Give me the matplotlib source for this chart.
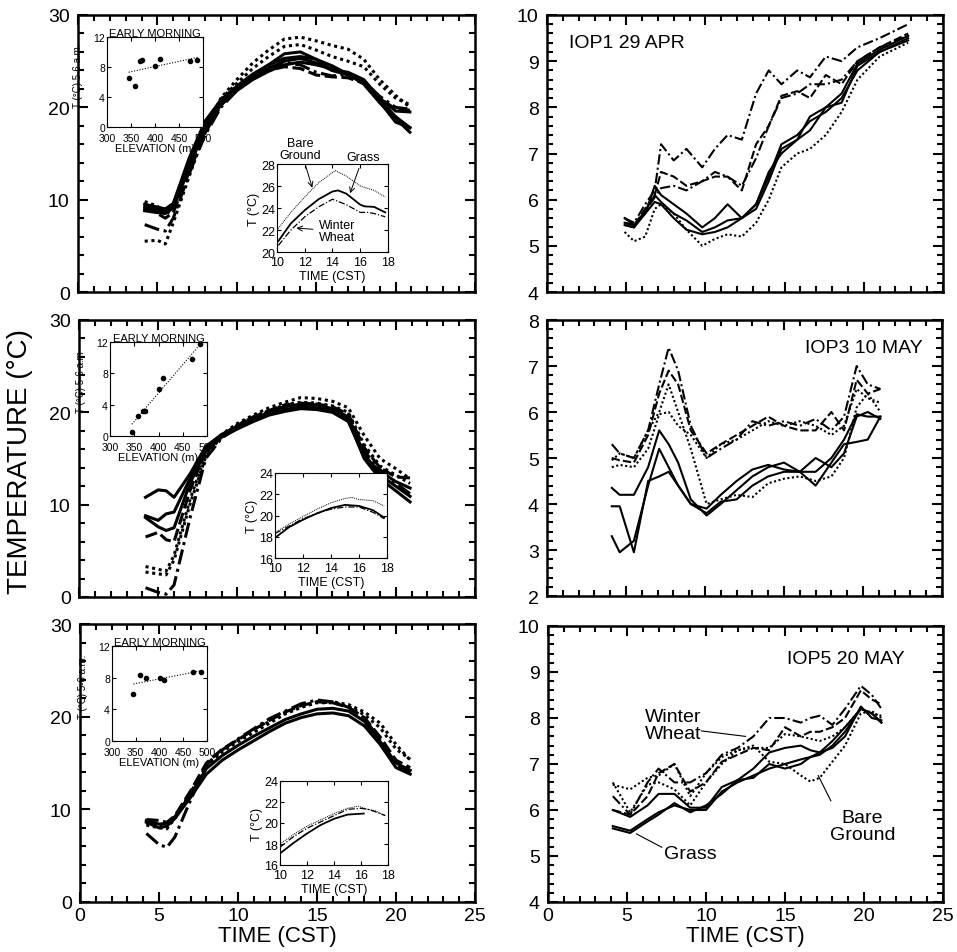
import matplotlib
matplotlib.use("Agg")
import matplotlib.pyplot as plt
from matplotlib.ticker import MultipleLocator

plt.rcParams['font.family'] = ['Liberation Sans', 'DejaVu Sans']

# ---------------- data: left column (whole day, all stations) ----------------
t_left = [4.2, 5, 5.5, 6, 7, 8, 9, 10, 11, 12, 13, 14, 15, 16, 17, 18, 19, 20, 20.9]

iop1_left = [
    ([9.5, 9.2, 9.0, 9.6, 14.5, 18.5, 20.8, 22.3, 23.6, 24.6, 25.3, 25.5, 25.2, 24.5, 23.6, 22.5, 20.5, 18.8, 17.3], 'solid'),
    ([9.2, 9.0, 8.9, 9.5, 14.2, 18.2, 20.6, 22.0, 23.2, 24.2, 25.0, 25.3, 24.8, 24.0, 23.5, 22.7, 20.8, 19.0, 17.8], 'solid'),
    ([9.0, 8.8, 8.7, 9.3, 13.8, 18.0, 20.5, 22.0, 23.4, 24.6, 25.8, 26.0, 25.2, 24.0, 23.8, 23.0, 21.0, 19.6, 19.5], 'solid'),
    ([8.8, 8.6, 8.5, 9.1, 13.6, 17.6, 20.3, 21.8, 23.0, 23.9, 24.6, 24.9, 24.6, 24.2, 23.7, 22.9, 20.6, 18.4, 17.8], 'solid'),
    ([9.8, 9.3, 8.4, 9.0, 13.5, 17.8, 20.9, 22.6, 24.2, 25.5, 26.6, 26.8, 26.2, 25.5, 25.0, 24.4, 22.5, 21.0, 20.3], 'dotted'),
    ([5.5, 5.6, 5.2, 7.5, 12.5, 17.5, 21.0, 23.0, 24.8, 26.2, 27.4, 27.6, 27.2, 26.7, 26.3, 25.2, 23.0, 21.3, 20.0], 'dotted'),
    ([7.3, 6.8, 6.6, 8.0, 12.8, 17.0, 20.0, 21.8, 23.2, 24.3, 24.8, 24.6, 23.8, 23.4, 23.6, 22.8, 21.2, 20.0, 19.8], 'dashdot'),
    ([9.3, 8.5, 8.0, 8.6, 13.0, 17.2, 20.2, 22.0, 23.2, 24.0, 24.4, 24.2, 23.5, 23.3, 23.2, 22.6, 21.0, 19.8, 19.7], 'dashed'),
]

iop3_left = [
    ([10.8, 11.6, 11.5, 10.8, 13.3, 16.3, 17.6, 18.5, 19.3, 20.0, 20.6, 20.9, 20.8, 20.4, 19.5, 15.5, 13.2, 12.0, 10.9], 'solid'),
    ([8.8, 8.3, 9.0, 9.2, 12.8, 16.0, 17.4, 18.3, 19.1, 19.8, 20.3, 20.6, 20.5, 20.1, 19.2, 15.0, 12.8, 11.5, 10.3], 'solid'),
    ([8.6, 7.6, 7.2, 7.5, 12.3, 15.8, 17.3, 18.2, 19.0, 19.7, 20.1, 20.4, 20.3, 20.0, 19.0, 15.2, 13.6, 12.5, 11.8], 'solid'),
    ([6.5, 7.0, 6.2, 6.0, 11.5, 15.9, 17.5, 18.6, 19.5, 20.2, 20.8, 21.0, 20.9, 20.6, 19.8, 16.2, 14.0, 13.0, 12.9], 'dashed'),
    ([3.3, 3.0, 2.8, 4.5, 10.5, 15.5, 17.6, 18.8, 19.7, 20.5, 21.1, 21.6, 21.5, 21.2, 20.5, 17.5, 15.0, 13.9, 12.8], 'dotted'),
    ([2.7, 2.5, 2.4, 4.0, 10.0, 15.2, 17.4, 18.6, 19.5, 20.2, 20.8, 21.1, 21.0, 20.7, 20.0, 16.5, 14.2, 13.2, 12.3], 'dotted'),
    ([1.0, 0.5, 0.3, 1.3, 8.5, 15.0, 17.2, 18.4, 19.4, 20.1, 20.6, 20.8, 20.7, 20.3, 19.4, 15.8, 13.8, 12.3, 11.2], 'dashdot'),
]

iop5_left = [
    ([8.6, 8.0, 8.2, 9.0, 11.3, 13.8, 15.3, 16.4, 17.4, 18.4, 19.3, 19.9, 20.3, 20.4, 20.1, 19.0, 17.0, 14.5, 13.8], 'solid'),
    ([8.8, 8.4, 8.5, 9.2, 11.6, 14.4, 15.8, 16.9, 17.9, 18.8, 19.7, 20.3, 20.8, 20.9, 20.6, 19.5, 17.3, 15.0, 14.2], 'solid'),
    ([8.9, 8.8, 8.6, 9.3, 12.0, 15.0, 16.5, 17.5, 18.6, 19.6, 20.5, 21.2, 21.6, 21.5, 21.0, 19.9, 17.8, 15.3, 14.5], 'dashed'),
    ([8.3, 8.0, 7.9, 9.1, 11.8, 14.6, 16.2, 17.3, 18.3, 19.3, 20.3, 21.0, 21.5, 21.5, 21.1, 20.2, 18.8, 16.5, 15.4], 'dotted'),
    ([7.4, 6.2, 5.9, 7.0, 11.0, 14.8, 16.4, 17.6, 18.7, 19.8, 20.6, 21.4, 21.8, 21.6, 21.0, 19.8, 17.5, 14.8, 14.0], 'dashdot'),
    ([8.5, 8.2, 8.0, 9.0, 11.8, 14.8, 16.4, 17.5, 18.5, 19.5, 20.4, 21.1, 21.6, 21.6, 21.3, 20.5, 19.3, 17.0, 15.3], 'dotted'),
]

# ---------------- data: right column (early morning, stations) ----------------
t_iop1 = [4.9, 5.5, 6.2, 6.8, 7.2, 8.0, 8.8, 9.8, 10.6, 11.4, 12.3, 13.2, 14.0, 14.8, 15.8, 16.6, 17.6, 18.6, 19.6, 21.0, 22.8]
iop1_right = [
    ([5.6, 5.5, 5.9, 6.2, 7.2, 6.85, 7.1, 6.7, 7.1, 7.4, 7.3, 8.3, 8.8, 8.5, 8.8, 8.65, 9.1, 9.0, 9.3, 9.5, 9.8], 'dashdot'),
    ([5.5, 5.45, 5.8, 6.1, 6.6, 6.5, 6.3, 6.4, 6.5, 6.5, 6.2, 7.2, 7.6, 8.25, 8.35, 8.2, 8.7, 8.5, 9.0, 9.3, 9.6], 'dashed'),
    ([5.45, 5.4, 5.75, 6.05, 6.25, 6.3, 6.2, 6.4, 6.6, 6.5, 6.3, 6.9, 7.6, 8.2, 8.3, 8.5, 8.5, 8.6, 9.0, 9.3, 9.55], 'dashdot'),
    ([5.6, 5.45, 5.7, 6.3, 6.1, 5.9, 5.7, 5.4, 5.6, 5.9, 5.6, 5.8, 6.4, 7.1, 7.3, 7.5, 8.0, 8.1, 8.9, 9.2, 9.5], 'solid'),
    ([5.5, 5.45, 5.75, 6.1, 5.95, 5.7, 5.55, 5.3, 5.4, 5.55, 5.6, 5.9, 6.6, 7.0, 7.3, 7.8, 8.0, 8.3, 8.95, 9.25, 9.55], 'solid'),
    ([5.45, 5.4, 5.7, 5.95, 5.9, 5.6, 5.35, 5.25, 5.3, 5.4, 5.6, 5.9, 6.5, 7.2, 7.4, 7.7, 7.9, 8.2, 8.8, 9.2, 9.45], 'solid'),
    ([5.3, 5.1, 5.2, 5.8, 5.9, 5.7, 5.35, 5.0, 5.15, 5.25, 5.2, 5.5, 6.0, 6.7, 7.0, 7.1, 7.4, 7.9, 8.6, 9.1, 9.4], 'dotted'),
]

t_iop3 = [4.1, 4.6, 5.5, 6.4, 7.1, 7.7, 8.3, 9.1, 10.1, 11.0, 12.0, 13.0, 14.0, 15.0, 16.0, 17.0, 18.0, 18.8, 19.6, 20.3, 21.1]
iop3_right = [
    ([5.3, 5.1, 5.0, 5.6, 6.6, 7.4, 6.9, 5.7, 5.0, 5.2, 5.4, 5.8, 5.7, 5.8, 5.7, 5.85, 5.6, 5.9, 7.0, 6.6, 6.5], 'dashdot'),
    ([5.0, 4.95, 4.9, 5.5, 6.4, 6.9, 6.6, 5.6, 5.1, 5.3, 5.5, 5.7, 5.9, 5.7, 5.6, 5.6, 6.0, 5.6, 6.7, 6.4, 6.5], 'dashed'),
    ([4.95, 5.1, 5.0, 5.6, 6.0, 6.6, 6.0, 5.2, 4.0, 4.1, 4.2, 4.15, 4.45, 4.55, 4.6, 4.5, 4.6, 5.0, 6.1, 6.4, 6.0], 'dotted'),
    ([4.8, 4.85, 4.8, 5.2, 5.95, 6.0, 5.7, 5.5, 5.0, 5.3, 5.4, 5.6, 5.8, 5.7, 5.8, 5.7, 5.5, 5.7, 6.5, 6.3, 6.2], 'dotted'),
    ([4.35, 4.2, 4.2, 4.8, 5.6, 5.3, 4.9, 4.1, 3.75, 4.0, 4.3, 4.6, 4.8, 4.9, 4.7, 4.7, 5.0, 5.4, 5.95, 5.9, 5.9], 'solid'),
    ([3.3, 2.95, 3.2, 4.4, 5.2, 4.8, 4.4, 4.0, 3.9, 4.2, 4.5, 4.75, 4.85, 4.75, 4.7, 4.4, 4.9, 5.3, 5.35, 5.4, 5.9], 'solid'),
    ([3.95, 3.95, 2.95, 4.5, 4.6, 4.7, 4.4, 4.0, 3.8, 4.05, 4.1, 4.4, 4.6, 4.7, 4.7, 5.0, 4.8, 5.1, 5.9, 6.0, 5.85], 'solid'),
]

t_iop5 = [4.1, 5.2, 6.3, 7.0, 8.0, 9.0, 10.0, 11.0, 12.0, 13.0, 14.0, 15.0, 16.0, 16.6, 17.2, 18.0, 18.8, 19.8, 20.5, 21.1]
iop5_right = [
    ([5.65, 5.55, 5.8, 5.95, 6.1, 6.0, 6.0, 6.4, 6.6, 6.75, 6.9, 7.0, 7.1, 7.15, 7.2, 7.4, 7.7, 8.2, 8.1, 7.9], 'solid'),
    ([5.6, 5.5, 5.75, 5.9, 6.15, 5.95, 6.1, 6.35, 6.65, 6.7, 7.0, 6.9, 7.0, 7.15, 7.25, 7.35, 7.6, 8.25, 8.0, 7.95], 'solid'),
    ([6.0, 5.85, 6.1, 6.35, 6.35, 6.05, 6.05, 6.5, 6.65, 6.9, 7.25, 7.35, 7.4, 7.3, 7.25, 7.5, 7.8, 8.2, 8.1, 7.9], 'solid'),
    ([6.6, 5.95, 6.55, 6.6, 6.45, 6.1, 6.6, 7.0, 7.3, 7.4, 7.05, 7.0, 6.75, 6.62, 6.7, 7.05, 7.4, 8.1, 8.15, 8.0], 'dotted'),
    ([6.55, 6.45, 6.7, 6.75, 7.0, 6.3, 6.8, 7.15, 7.3, 7.35, 7.35, 7.65, 7.6, 7.55, 7.5, 7.6, 7.8, 8.2, 8.1, 8.05], 'dotted'),
    ([6.3, 5.9, 6.6, 6.9, 6.6, 6.6, 6.8, 7.2, 7.35, 7.6, 8.0, 8.0, 7.9, 8.0, 8.05, 7.85, 8.2, 8.7, 8.5, 8.2], 'dashdot'),
    ([6.0, 5.9, 6.3, 6.8, 7.0, 6.4, 6.6, 7.05, 7.2, 7.35, 7.3, 7.8, 7.6, 7.7, 7.7, 7.8, 8.0, 8.6, 8.4, 8.3], 'dashed'),
]

# ---------------- data: early morning vs elevation insets ----------------
elev1 = [345, 358, 368, 372, 400, 410, 473, 488]
tmin1 = [6.6, 5.5, 8.8, 9.0, 8.1, 9.1, 8.8, 9.0]
fit1 = [7.3, 9.3]
elev3 = [345, 358, 368, 372, 400, 410, 470, 485]
tmin3 = [0.5, 2.6, 3.2, 3.2, 6.0, 7.4, 9.8, 11.8]
fit3 = [1.5, 12.0]
elev5 = [345, 358, 372, 400, 410, 470, 488]
tmin5 = [6.0, 8.3, 8.0, 8.0, 7.7, 8.7, 8.7]
fit5 = [7.2, 8.9]
fit_elev = [345, 490]

# ---------------- data: midday land-use averages insets ----------------
ins1_bare = ([10, 11, 12, 13, 14.2, 15, 16, 17, 17.8], [22.0, 23.6, 25.0, 26.3, 27.4, 26.9, 26.0, 25.6, 25.0])
ins1_grass = ([10.1, 11, 12, 13, 14, 14.4, 15, 16, 16.3, 17, 17.8], [21.0, 22.6, 23.8, 24.8, 25.5, 25.6, 25.3, 24.3, 24.15, 24.1, 23.6])
ins1_wheat = ([10.1, 11, 12, 13, 14, 15, 16, 16.5, 17, 17.8], [20.6, 22.0, 23.2, 24.1, 24.8, 24.3, 23.6, 23.6, 23.5, 23.2])
ins3_bare = ([10, 11, 12, 13, 14, 15, 15.5, 16, 17, 17.8], [18.4, 19.2, 19.9, 20.6, 21.2, 21.6, 21.7, 21.5, 21.4, 20.9])
ins3_grass = ([10, 11, 12, 13, 14, 15, 16, 17, 17.8], [17.9, 18.9, 19.6, 20.2, 20.7, 21.0, 20.9, 20.5, 19.8])
ins3_wheat = ([10, 11, 12, 13, 14, 15, 16, 17, 17.8], [18.3, 19.0, 19.7, 20.2, 20.6, 20.8, 20.8, 20.3, 19.7])
ins5_bare = ([10, 11, 12, 13, 14, 15, 15.8, 16.5, 17, 17.8], [18.0, 18.9, 19.7, 20.3, 20.9, 21.4, 21.6, 21.3, 21.2, 20.7])
ins5_grass = ([10.1, 11, 12, 13, 14, 15, 16.2], [17.2, 18.1, 19.0, 19.8, 20.4, 20.8, 20.9])
ins5_wheat = ([10, 11, 12, 13, 14, 15, 16, 16.5, 17, 17.8], [17.7, 18.7, 19.5, 20.1, 20.7, 21.3, 21.4, 21.3, 21.1, 20.7])

W, H = 957, 953
fig = plt.figure(figsize=(W / 100, H / 100), dpi=100)


def rect(x0, y0, x1, y1):
    # pixel box -> figure fraction
    return [x0 / W, 1 - y1 / H, (x1 - x0) / W, (y1 - y0) / H]


styles_thick = {'solid': '-', 'dotted': (0, (1, 1.2)), 'dashed': (0, (4, 1.5)),
                'dashdot': (0, (5, 1.5, 1, 1.5))}


def style_main(ax, ylim, ymaj, ymin, xlabels):
    ax.set_xlim(0, 25)
    ax.set_ylim(*ylim)
    ax.xaxis.set_major_locator(MultipleLocator(5))
    ax.xaxis.set_minor_locator(MultipleLocator(1))
    ax.yaxis.set_major_locator(MultipleLocator(ymaj))
    ax.yaxis.set_minor_locator(MultipleLocator(ymin))
    ax.tick_params(which='both', direction='in', top=True, right=True, labelsize=14, width=1.5)
    ax.tick_params(which='major', length=7)
    ax.tick_params(which='minor', length=4)
    ax.tick_params(axis='y', pad=6)
    for s in ax.spines.values():
        s.set_linewidth(1.8)
    if xlabels:
        ax.set_xlabel('TIME (CST)', fontsize=16, labelpad=1)
    else:
        ax.set_xticklabels([])


def draw_lines(ax, t, series, lw):
    for vals, ls in series:
        ax.plot(t, vals, color='black', lw=lw, linestyle=styles_thick[ls])


def scatter_inset(box, elev, tmin, fit, ylab):
    ax = fig.add_axes(rect(*box))
    ax.plot(elev, tmin, 'o', color='black', ms=3)
    ax.plot(fit_elev, fit, color='black', lw=0.8, linestyle=(0, (1, 1.5)))
    ax.set_xlim(300, 500)
    ax.set_ylim(0, 12)
    ax.set_xticks([300, 350, 400, 450, 500])
    ax.set_yticks([0, 4, 8, 12])
    ax.tick_params(direction='in', top=True, right=True, labelsize=7.5, length=3)
    ax.tick_params(axis='x', pad=4)
    ax.tick_params(axis='y', pad=1.5)
    ax.set_title('EARLY MORNING', fontsize=8, pad=1)
    ax.set_xlabel('ELEVATION (m)', fontsize=8, labelpad=0)
    ax.set_ylabel(ylab, fontsize=7)
    ax.yaxis.set_label_coords(-0.25, 0.58)
    return ax


def time_inset(box, ylim, bare, grass, wheat):
    ax = fig.add_axes(rect(*box))
    ax.plot(*bare, color='black', lw=0.7, linestyle=(0, (1, 1)))
    ax.plot(*grass, color='black', lw=1.3)
    ax.plot(*wheat, color='black', lw=0.9, linestyle=(0, (5, 1.5, 1, 1.5)))
    ax.set_xlim(10, 18)
    ax.set_ylim(*ylim)
    ax.set_xticks([10, 12, 14, 16, 18])
    ax.set_yticks(range(ylim[0], ylim[1] + 1, 2))
    ax.tick_params(direction='in', top=True, right=True, labelsize=9, length=3)
    ax.tick_params(axis='x', pad=3)
    ax.tick_params(axis='y', pad=1.5)
    ax.set_xlabel('TIME (CST)', fontsize=9, labelpad=1)
    ax.set_ylabel('T (°C)', fontsize=9, labelpad=1)
    return ax


# ---- left column ----
ax1 = fig.add_axes(rect(78, 16, 475, 293))
draw_lines(ax1, t_left, iop1_left, 2.2)
style_main(ax1, (0, 30), 10, 2, False)

ax2 = fig.add_axes(rect(79, 321, 475, 598))
draw_lines(ax2, t_left, iop3_left, 2.2)
style_main(ax2, (0, 30), 10, 2, False)

ax3 = fig.add_axes(rect(80, 625, 475, 903))
draw_lines(ax3, t_left, iop5_left, 2.2)
style_main(ax3, (0, 30), 10, 2, True)

fig.text(0.021, 1 - 462 / H, 'TEMPERATURE (°C)', rotation=90, ha='center', va='center', fontsize=20)

# ---- right column ----
ax4 = fig.add_axes(rect(547, 16, 943, 293))
draw_lines(ax4, t_iop1, iop1_right, 1.5)
style_main(ax4, (4, 10), 1, 0.2, False)
ax4.text(1.4, 9.4, 'IOP1 29 APR', fontsize=14, va='center')

ax5 = fig.add_axes(rect(547, 321, 942, 597))
draw_lines(ax5, t_iop3, iop3_right, 1.5)
style_main(ax5, (2, 8), 1, 0.2, False)
ax5.text(23.8, 7.4, 'IOP3 10 MAY', fontsize=14, va='center', ha='right')

ax6 = fig.add_axes(rect(548, 627, 943, 903))
draw_lines(ax6, t_iop5, iop5_right, 1.5)
style_main(ax6, (4, 10), 1, 0.2, True)
ax6.text(22.6, 9.3, 'IOP5 20 MAY', fontsize=14, va='center', ha='right')
ax6.text(7.9, 7.85, 'Winter\nWheat', fontsize=14, ha='center', va='center', linespacing=1.0)
ax6.plot([9.7, 12.5], [7.72, 7.6], color='black', lw=0.8)
ax6.text(9.0, 5.05, 'Grass', fontsize=14, ha='center', va='center')
ax6.plot([5.6, 7.2], [5.48, 5.19], color='black', lw=0.8)
ax6.text(19.9, 5.65, 'Bare\nGround', fontsize=14, ha='center', va='center', linespacing=1.0)
ax6.plot([17.1, 17.9], [6.75, 6.2], color='black', lw=0.8)

# ---- insets ----
scatter_inset((107, 38, 203, 128), elev1, tmin1, fit1, 'T (°C) 5-6 a.m.')
scatter_inset((110, 343, 207, 437), elev3, tmin3, fit3, 'T (°C) 5-6 a.m')
scatter_inset((112, 647, 207, 742), elev5, tmin5, fit5, 'T (°C) 5-6 a.m.')

ia = time_inset((277, 165, 388, 253), (20, 28), ins1_bare, ins1_grass, ins1_wheat)
arrow = dict(arrowstyle='->', color='black', lw=0.7)
ia.annotate('Bare\nGround', xy=(12.6, 25.6), xytext=(11.7, 28.3), fontsize=9, ha='center',
            va='bottom', linespacing=0.95, arrowprops=arrow, annotation_clip=False)
ia.annotate('Grass', xy=(15.2, 25.1), xytext=(16.2, 28.1), fontsize=9, ha='center',
            va='bottom', arrowprops=arrow, annotation_clip=False)
ia.annotate('Winter\nWheat', xy=(11.2, 22.2), xytext=(14.3, 21.9), fontsize=9, ha='center',
            va='center', linespacing=0.95, arrowprops=arrow)
time_inset((275, 474, 387, 559), (16, 24), ins3_bare, ins3_grass, ins3_wheat)
time_inset((280, 782, 388, 866), (16, 24), ins5_bare, ins5_grass, ins5_wheat)

fig.savefig('out.png', dpi=100)
